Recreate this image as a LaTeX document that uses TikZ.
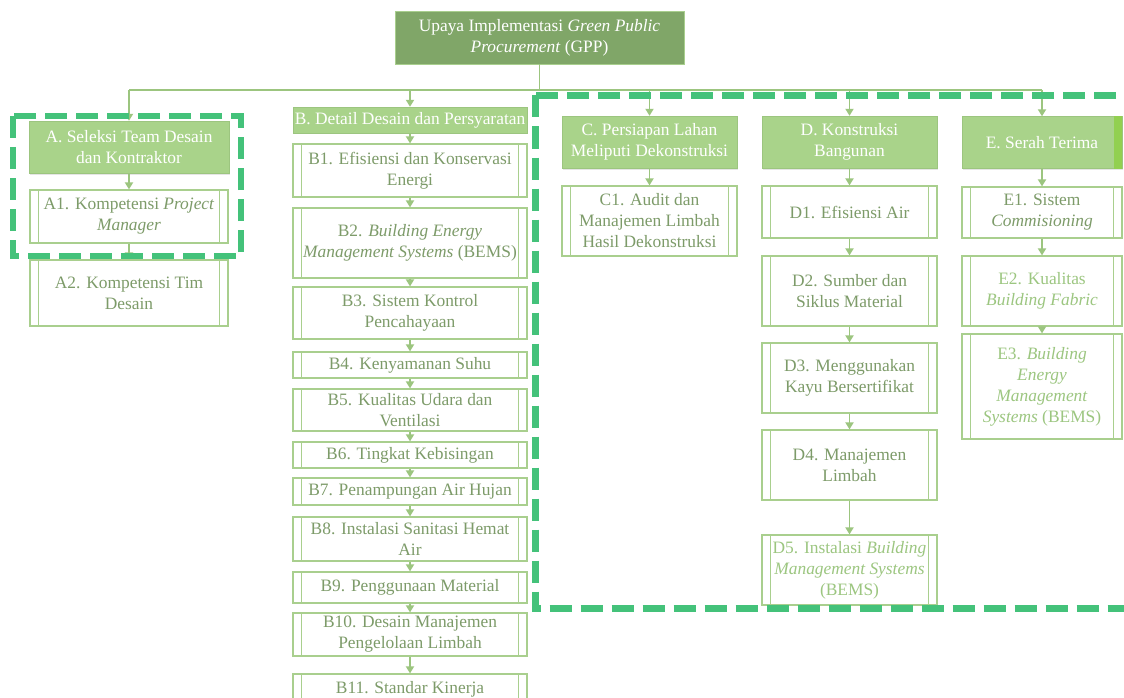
\documentclass[tikz,border=0pt]{standalone}
\usepackage{fontspec}
\setmainfont{Liberation Serif}
\usetikzlibrary{arrows.meta,shadows}
\definecolor{gppgreen}{HTML}{80A668}
\definecolor{headgreen}{HTML}{A9D38A}
\definecolor{edgegreen}{HTML}{A9CF8E}
\definecolor{linegreen}{HTML}{9CC57F}
\definecolor{textgreen}{HTML}{7D9B69}
\definecolor{palegreen}{HTML}{9CC680}
\definecolor{dashgreen}{HTML}{44C27A}
\definecolor{stripegreen}{HTML}{92D050}
\newcommand{\boxfont}{\fontsize{17.4}{21}\selectfont}
\tikzset{
  topbox/.style={draw=edgegreen, fill=gppgreen, text=white, align=center, inner sep=0pt, font=\boxfont,
    drop shadow={shadow xshift=1pt, shadow yshift=-1.5pt, opacity=0.2}},
  headbox/.style={draw=linegreen, fill=headgreen, text=white, align=center, inner sep=0pt, font=\boxfont,
    drop shadow={shadow xshift=1pt, shadow yshift=-1.5pt, opacity=0.2}},
  itembox/.style={draw=edgegreen, line width=1.2pt, text=textgreen, align=center, inner sep=0pt, font=\boxfont,
    path picture={
      \draw[edgegreen, line width=1.2pt] ([xshift=8.5pt]path picture bounding box.north west) -- ([xshift=8.5pt]path picture bounding box.south west);
      \draw[edgegreen, line width=1.2pt] ([xshift=-8.5pt]path picture bounding box.north east) -- ([xshift=-8.5pt]path picture bounding box.south east);
    }},
  link/.style={draw=linegreen, line width=1.8pt},
  arr/.style={link, -{Triangle[length=7pt, width=8pt]}},
  zone/.style={draw=dashgreen, line width=6.5pt, dash pattern=on 22pt off 9pt}
}
\begin{document}
\begin{tikzpicture}[x=1pt, y=-1pt]
  \useasboundingbox (0,0) rectangle (1124,698);
  \clip (0,0) rectangle (1124,698);
  \fill[white] (0,0) rectangle (1124,698);

  \node[topbox, minimum width=289pt, minimum height=53pt] (gpp) at (539.5,37.5) {Upaya Implementasi \textit{Green Public}\\\textit{Procurement} (GPP)};

  \node[headbox, minimum width=200pt, minimum height=52pt] (ha) at (129,147) {A. Seleksi Team Desain\\dan Kontraktor};
  \node[headbox, minimum width=234pt, minimum height=26pt] (hb) at (410,120) {B. Detail Desain dan Persyaratan};
  \node[headbox, minimum width=175pt, minimum height=52pt] (hc) at (649.5,142) {C. Persiapan Lahan\\Meliputi Dekonstruksi};
  \node[headbox, minimum width=175pt, minimum height=52pt] (hd) at (849.5,142) {D. Konstruksi\\Bangunan};
  \node[headbox, minimum width=160pt, minimum height=52pt] (he) at (1042,142.5) {E. Serah Terima};
  \fill[stripegreen] ([xshift=-8pt]he.north east) rectangle (he.south east);

  \node[itembox, minimum width=198pt, minimum height=53pt] (a1) at (129,216.5) {A1. Kompetensi \textit{Project}\\\textit{Manager}};
  \node[itembox, minimum width=198pt, minimum height=66pt] (a2) at (129,293) {A2. Kompetensi Tim\\Desain};

  \node[itembox, minimum width=234pt, minimum height=53pt] (b1) at (410,170.5) {B1. Efisiensi dan Konservasi\\Energi};
  \node[itembox, minimum width=234pt, minimum height=70pt] (b2) at (410,243) {B2. \textit{Building Energy}\\\textit{Management Systems} (BEMS)};
  \node[itembox, minimum width=234pt, minimum height=52pt] (b3) at (410,313) {B3. Sistem Kontrol\\Pencahayaan};
  \node[itembox, minimum width=234pt, minimum height=26pt] (b4) at (410,365) {B4. Kenyamanan Suhu};
  \node[itembox, minimum width=234pt, minimum height=42pt] (b5) at (410,410) {B5. Kualitas Udara dan\\Ventilasi};
  \node[itembox, minimum width=234pt, minimum height=26pt] (b6) at (410,455) {B6. Tingkat Kebisingan};
  \node[itembox, minimum width=234pt, minimum height=27pt] (b7) at (410,491.5) {B7. Penampungan Air Hujan};
  \node[itembox, minimum width=234pt, minimum height=44pt] (b8) at (410,539) {B8. Instalasi Sanitasi Hemat\\Air};
  \node[itembox, minimum width=234pt, minimum height=31pt] (b9) at (410,587.5) {B9. Penggunaan Material};
  \node[itembox, minimum width=234pt, minimum height=43pt] (b10) at (410,634.5) {B10. Desain Manajemen\\Pengelolaan Limbah};
  \node[itembox, minimum width=234pt, minimum height=30pt] (b11) at (410,689) {B11. Standar Kinerja};

  \node[itembox, minimum width=175pt, minimum height=70pt] (c1) at (649.5,221) {C1. Audit dan\\Manajemen Limbah\\Hasil Dekonstruksi};

  \node[itembox, minimum width=175pt, minimum height=52pt] (d1) at (849.5,212) {D1. Efisiensi Air};
  \node[itembox, minimum width=175pt, minimum height=70pt] (d2) at (849.5,291) {D2. Sumber dan\\Siklus Material};
  \node[itembox, minimum width=175pt, minimum height=70pt] (d3) at (849.5,378) {D3. Menggunakan\\Kayu Bersertifikat};
  \node[itembox, minimum width=175pt, minimum height=70pt] (d4) at (849.5,465) {D4. Manajemen\\Limbah};
  \node[itembox, minimum width=175pt, minimum height=70pt, text=palegreen] (d5) at (849.5,570) {D5. Instalasi \textit{Building}\\\textit{Management Systems}\\(BEMS)};

  \node[itembox, minimum width=160pt, minimum height=51pt] (e1) at (1042,212.5) {E1. Sistem\\\textit{Commisioning}};
  \node[itembox, minimum width=160pt, minimum height=70pt, text=palegreen] (e2) at (1042,291) {E2. Kualitas\\\textit{Building Fabric}};
  \node[itembox, minimum width=160pt, minimum height=105pt, text=palegreen] (e3) at (1042,386.5) {E3. \textit{Building}\\\textit{Energy}\\\textit{Management}\\\textit{Systems} (BEMS)};

  \draw[link] (gpp.south) -- (gpp.south |- 0,90) coordinate (bus);
  \draw[link] (ha.north |- bus) -- (he.north |- bus);
  \foreach \h in {ha,hb,hc,hd,he}
    \draw[arr] (\h.north |- bus) -- (\h.north);
  \foreach \p/\q in {ha/a1, a1/a2, hb/b1, b1/b2, b2/b3, b3/b4, b4/b5, b5/b6, b6/b7, b7/b8, b8/b9, b9/b10, b10/b11,
                     hc/c1, hd/d1, d1/d2, d2/d3, d3/d4, d4/d5, he/e1, e1/e2, e2/e3}
    \draw[arr] (\p.south) -- (\q.north);

  \draw[zone] (13,116) rectangle (241,256);
  \draw[zone, line width=7pt] (535,95.5) rectangle (1150,608);
\end{tikzpicture}
\end{document}
